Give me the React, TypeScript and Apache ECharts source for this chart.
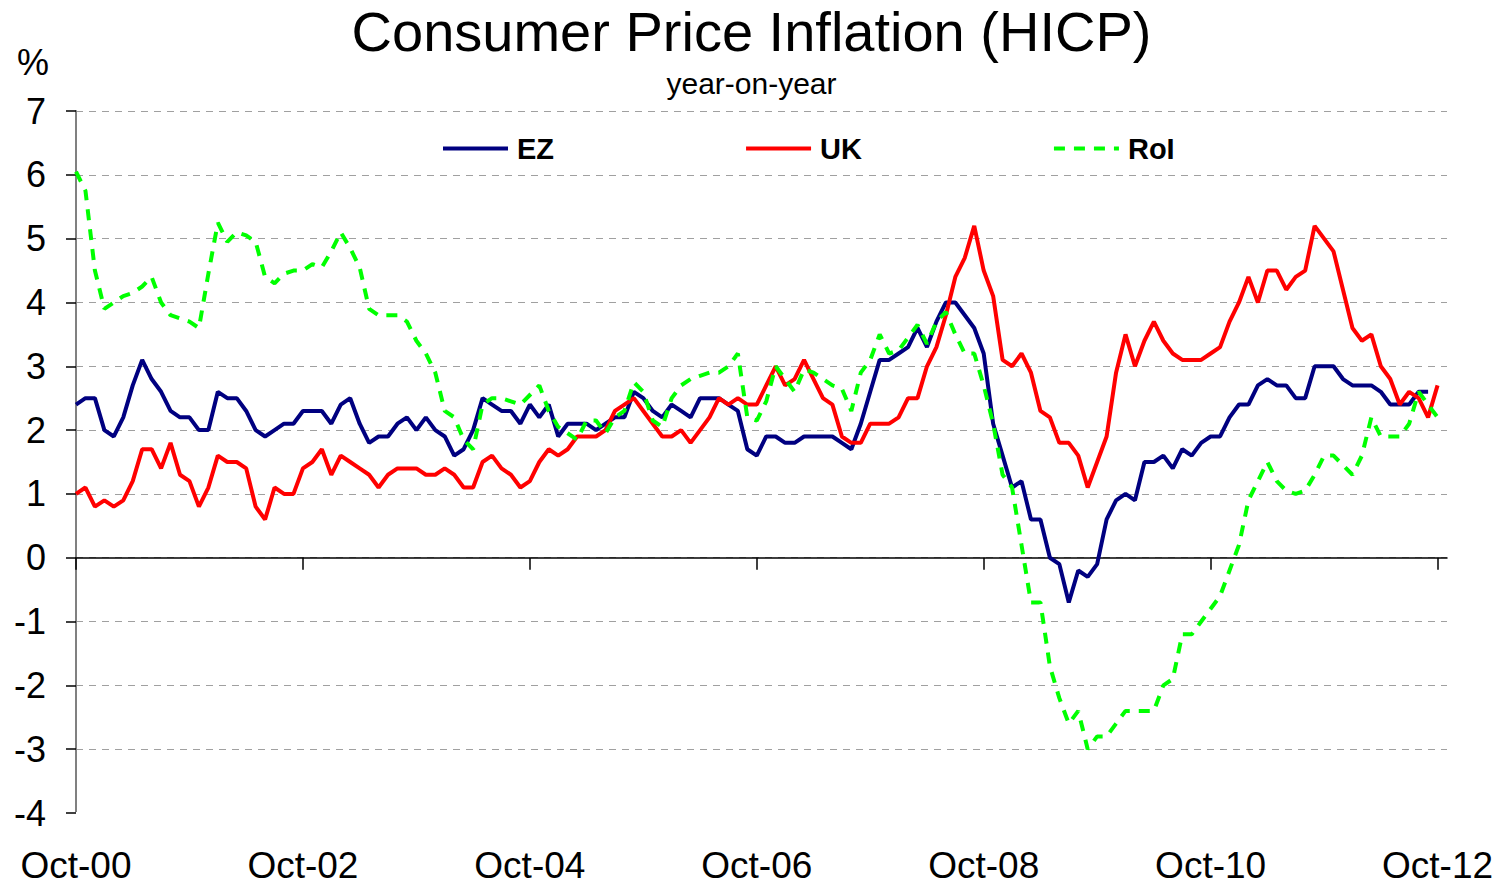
import React, { useEffect, useRef } from "react";
import * as echarts from "echarts";

const FONT = '"Liberation Sans", Arial, Helvetica, sans-serif';

const MONTH_NAMES = ["Jan", "Feb", "Mar", "Apr", "May", "Jun", "Jul", "Aug", "Sep", "Oct", "Nov", "Dec"];
const START_YEAR = 2000;
const START_MONTH = 9; // October
const CATEGORY_COUNT = 146; // Oct-00 .. Nov-12
const categories: string[] = [];
for (let k = 0; k < CATEGORY_COUNT; k++) {
  const m = (START_MONTH + k) % 12;
  const y = START_YEAR + Math.floor((START_MONTH + k) / 12);
  categories.push(`${MONTH_NAMES[m]}-${String(y % 100).padStart(2, "0")}`);
}

const seriesNames = ["EZ", "UK", "RoI"];

// Euro zone HICP, Oct-00 .. Sep-12
const ez = [
  2.4, 2.5, 2.5,
  2.0, 1.9, 2.2, 2.7, 3.1, 2.8, 2.6, 2.3, 2.2, 2.2, 2.0, 2.0,
  2.6, 2.5, 2.5, 2.3, 2.0, 1.9, 2.0, 2.1, 2.1, 2.3, 2.3, 2.3,
  2.1, 2.4, 2.5, 2.1, 1.8, 1.9, 1.9, 2.1, 2.2, 2.0, 2.2, 2.0,
  1.9, 1.6, 1.7, 2.0, 2.5, 2.4, 2.3, 2.3, 2.1, 2.4, 2.2, 2.4,
  1.9, 2.1, 2.1, 2.1, 2.0, 2.1, 2.2, 2.2, 2.6, 2.5, 2.3, 2.2,
  2.4, 2.3, 2.2, 2.5, 2.5, 2.5, 2.4, 2.3, 1.7, 1.6, 1.9, 1.9,
  1.8, 1.8, 1.9, 1.9, 1.9, 1.9, 1.8, 1.7, 2.1, 2.6, 3.1, 3.1,
  3.2, 3.3, 3.6, 3.3, 3.7, 4.0, 4.0, 3.8, 3.6, 3.2, 2.1, 1.6,
  1.1, 1.2, 0.6, 0.6, 0.0, -0.1, -0.7, -0.2, -0.3, -0.1, 0.6, 0.9,
  1.0, 0.9, 1.5, 1.5, 1.6, 1.4, 1.7, 1.6, 1.8, 1.9, 1.9, 2.2,
  2.4, 2.4, 2.7, 2.8, 2.7, 2.7, 2.5, 2.5, 3.0, 3.0, 3.0, 2.8,
  2.7, 2.7, 2.7, 2.6, 2.4, 2.4, 2.4, 2.6, 2.6,
];

// UK HICP, Oct-00 .. Oct-12
const uk = [
  1.0, 1.1, 0.8,
  0.9, 0.8, 0.9, 1.2, 1.7, 1.7, 1.4, 1.8, 1.3, 1.2, 0.8, 1.1,
  1.6, 1.5, 1.5, 1.4, 0.8, 0.6, 1.1, 1.0, 1.0, 1.4, 1.5, 1.7,
  1.3, 1.6, 1.5, 1.4, 1.3, 1.1, 1.3, 1.4, 1.4, 1.4, 1.3, 1.3,
  1.4, 1.3, 1.1, 1.1, 1.5, 1.6, 1.4, 1.3, 1.1, 1.2, 1.5, 1.7,
  1.6, 1.7, 1.9, 1.9, 1.9, 2.0, 2.3, 2.4, 2.5, 2.3, 2.1, 1.9,
  1.9, 2.0, 1.8, 2.0, 2.2, 2.5, 2.4, 2.5, 2.4, 2.4, 2.7, 3.0,
  2.7, 2.8, 3.1, 2.8, 2.5, 2.4, 1.9, 1.8, 1.8, 2.1, 2.1, 2.1,
  2.2, 2.5, 2.5, 3.0, 3.3, 3.8, 4.4, 4.7, 5.2, 4.5, 4.1, 3.1,
  3.0, 3.2, 2.9, 2.3, 2.2, 1.8, 1.8, 1.6, 1.1, 1.5, 1.9, 2.9,
  3.5, 3.0, 3.4, 3.7, 3.4, 3.2, 3.1, 3.1, 3.1, 3.2, 3.3, 3.7,
  4.0, 4.4, 4.0, 4.5, 4.5, 4.2, 4.4, 4.5, 5.2, 5.0, 4.8, 4.2,
  3.6, 3.4, 3.5, 3.0, 2.8, 2.4, 2.6, 2.5, 2.2, 2.7,
];

// Republic of Ireland HICP, Oct-00 .. Oct-12
const roi = [
  6.05, 5.75, 4.5,
  3.9, 4.0, 4.1, 4.15, 4.25, 4.4, 4.0, 3.8, 3.75, 3.7, 3.6, 4.45,
  5.25, 4.95, 5.1, 5.05, 4.95, 4.4, 4.3, 4.45, 4.5, 4.5, 4.6, 4.55,
  4.8, 5.1, 4.85, 4.55, 3.9, 3.8, 3.8, 3.8, 3.7, 3.4, 3.2, 2.9,
  2.3, 2.2, 1.85, 1.7, 2.4, 2.5, 2.5, 2.45, 2.4, 2.55, 2.7, 2.3,
  2.05, 1.95, 1.85, 2.15, 2.15, 1.95, 2.2, 2.3, 2.75, 2.6, 2.15, 2.05,
  2.5, 2.7, 2.8, 2.85, 2.9, 2.9, 3.0, 3.2, 2.2, 2.15, 2.45, 3.0,
  2.8, 2.6, 2.95, 2.9, 2.8, 2.7, 2.65, 2.3, 2.9, 3.1, 3.5, 3.2,
  3.25, 3.45, 3.65, 3.35, 3.7, 3.85, 3.5, 3.2, 3.2, 2.7, 2.1, 1.3,
  1.1, 0.2, -0.7, -0.7, -1.7, -2.2, -2.6, -2.4, -3.0, -2.8, -2.8, -2.6,
  -2.4, -2.4, -2.4, -2.4, -2.0, -1.9, -1.2, -1.2, -1.0, -0.8, -0.6, -0.2,
  0.2, 0.9, 1.2, 1.5, 1.2, 1.05, 1.0, 1.05, 1.3, 1.6, 1.6, 1.45,
  1.3, 1.6, 2.2, 1.9, 1.9, 1.9, 2.1, 2.6, 2.4, 2.2,
];

const Y_MIN = -4;
const Y_MAX = 7;
const Y_STEP = 1;
const X_LABEL_EVERY = 24;

const colors = ["#000080", "#FF0000", "#00FF00"];

export default function App() {
  const ref = useRef<HTMLDivElement>(null);

  useEffect(() => {
    if (!ref.current) return;
    const chart = echarts.init(ref.current, undefined, { renderer: "svg" });
    const option: any = {
      animation: false,
      backgroundColor: "#ffffff",
      title: [
        {
          text: "Consumer Price Inflation (HICP)",
          left: "center",
          top: -2,
          textStyle: { fontFamily: FONT, fontSize: 56, fontWeight: "normal", color: "#000" },
        },
        {
          text: "year-on-year",
          left: "center",
          top: 63,
          textStyle: { fontFamily: FONT, fontSize: 30, fontWeight: "normal", color: "#000" },
        },
      ],
      graphic: [
        {
          type: "text",
          left: 17,
          top: 44,
          style: { text: "%", font: `36px ${FONT}`, fill: "#000" },
        },
      ],
      legend: {
        data: seriesNames,
        left: 441,
        top: 134,
        padding: 0,
        itemWidth: 65,
        itemHeight: 14,
        itemGap: 190,
        itemStyle: { opacity: 0 },
        lineStyle: { width: 4 },
        textStyle: { fontFamily: FONT, fontSize: 29, fontWeight: "bold", color: "#000", padding: [0, 0, 0, 4] },
      },
      grid: { left: 76, right: 56, top: 111, bottom: 74, containLabel: false },
      xAxis: [
        {
          type: "category",
          data: categories,
          boundaryGap: false,
          axisLine: { onZero: true, lineStyle: { color: "#000", width: 1.5 } },
          axisTick: { interval: X_LABEL_EVERY - 1, length: 12, lineStyle: { color: "#000", width: 1.5 } },
          axisLabel: { show: false },
          splitLine: { show: false },
        },
        {
          type: "category",
          data: categories,
          boundaryGap: false,
          position: "bottom",
          axisLine: { show: true, onZero: false, lineStyle: { color: "#ffffff", width: 3 } },
          axisTick: { show: false },
          axisLabel: {
            interval: X_LABEL_EVERY - 1,
            margin: 35,
            lineHeight: 34,
            fontFamily: FONT,
            fontSize: 37,
            color: "#000",
          },
          splitLine: { show: false },
        },
      ],
      yAxis: {
        type: "value",
        min: Y_MIN,
        max: Y_MAX,
        interval: Y_STEP,
        axisLine: { show: true, onZero: false, lineStyle: { color: "#808080", width: 2 } },
        axisTick: { show: true, length: 10, lineStyle: { color: "#000", width: 1.5 } },
        axisLabel: { margin: 30, fontFamily: FONT, fontSize: 36, color: "#000" },
        splitLine: { show: true, lineStyle: { type: [7, 6], color: "#a0a0a0", width: 1.2 } },
      },
      series: [
        {
          name: seriesNames[0],
          type: "line",
          data: ez,
          xAxisIndex: 0,
          symbol: "none",
          lineStyle: { color: colors[0], width: 4 },
          itemStyle: { color: colors[0] },
        },
        {
          name: seriesNames[1],
          type: "line",
          data: uk,
          xAxisIndex: 0,
          symbol: "none",
          lineStyle: { color: colors[1], width: 4 },
          itemStyle: { color: colors[1] },
        },
        {
          name: seriesNames[2],
          type: "line",
          data: roi,
          xAxisIndex: 0,
          symbol: "none",
          lineStyle: { color: colors[2], width: 4, type: [11, 9] },
          itemStyle: { color: colors[2] },
        },
      ],
    };
    chart.setOption(option);
    return () => chart.dispose();
  }, []);

  return (
    <div
      ref={ref}
      style={{ position: "fixed", left: 0, top: 0, width: 1503, height: 887, background: "#fff" }}
    />
  );
}
